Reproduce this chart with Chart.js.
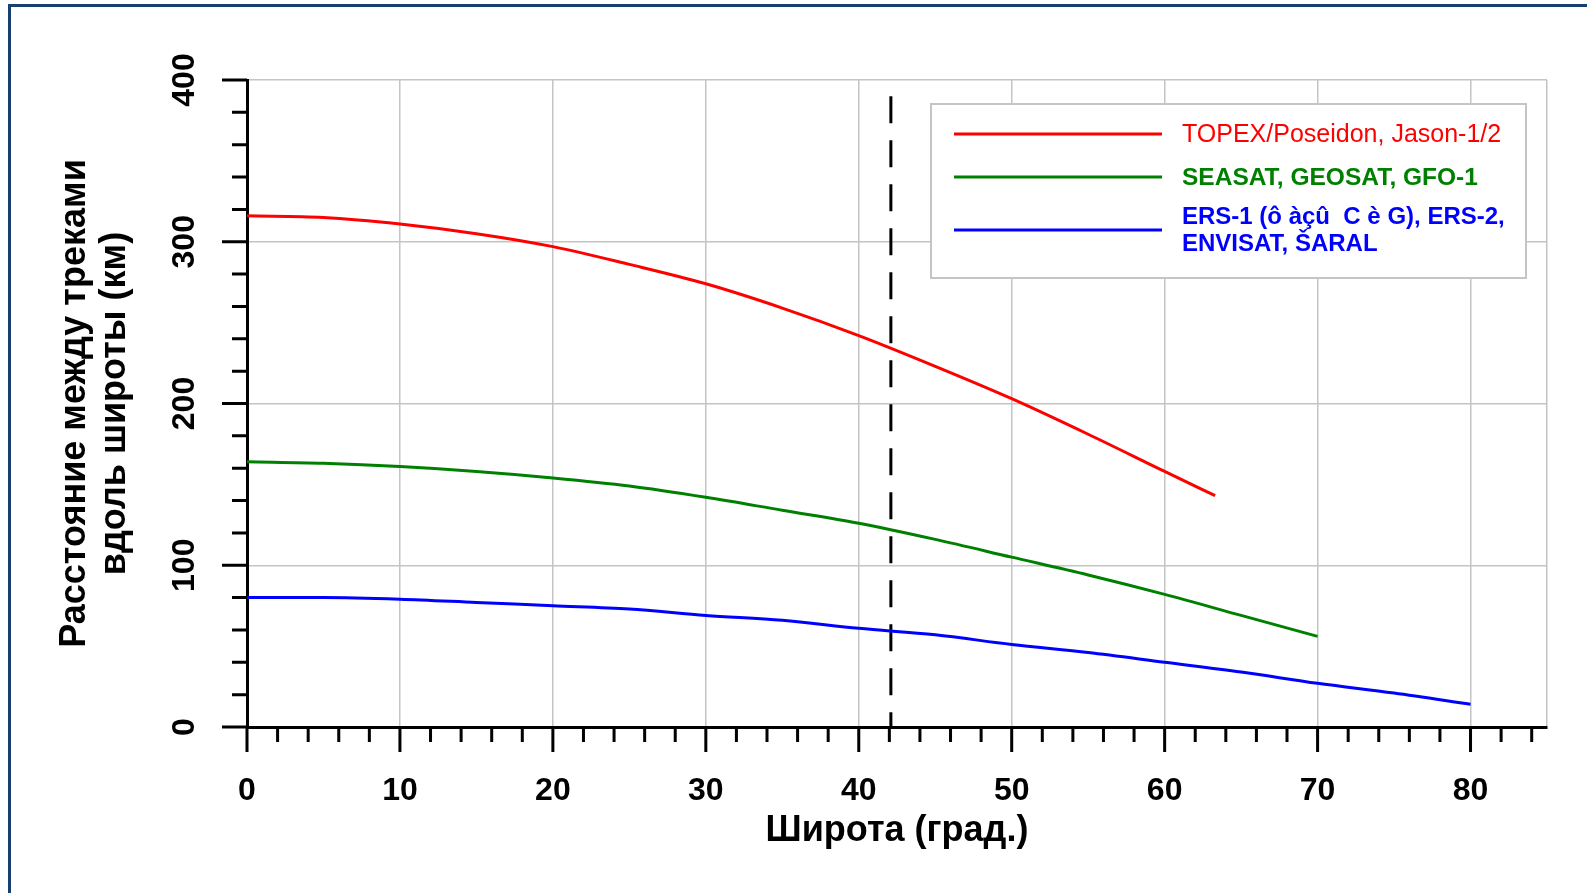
<!DOCTYPE html>
<html>
<head>
<meta charset="utf-8">
<script src="https://cdn.jsdelivr.net/npm/chart.js@4/dist/chart.umd.min.js"></script>
<style>
  body { margin: 0; background: #fff; }
  #wrap { position: relative; width: 1587px; height: 893px; overflow: hidden; }
  #frame { position: absolute; left: 8px; top: 4px; right: -10px; bottom: -10px;
           border-left: 3px solid #173f70; border-top: 3px solid #173f70; pointer-events: none; }
  canvas { position: absolute; left: 0; top: 0; }
</style>
</head>
<body>
<div id="wrap">
  <canvas id="trackChart" width="1587" height="893"></canvas>
  <div id="frame"></div>
</div>
<script>
// latitude (deg) and track spacing (km)
const topexLat = [0, 5, 10, 15, 20, 25, 30, 35, 40, 45, 50, 55, 60, 63.3];
const topexKm  = [316, 315, 311, 305, 297, 286, 274, 259, 242, 223, 203, 181, 158, 143];

const seasatLat = [0, 5, 10, 15, 20, 25, 30, 35, 40, 45, 50, 55, 60, 65, 70];
const seasatKm  = [164, 163, 161, 158, 154, 149, 142, 134, 126, 116, 105, 94, 82, 69, 56];

const ersLat = [0, 5, 10, 15, 20, 25, 30, 35, 40, 45, 50, 55, 60, 65, 70, 75, 80];
const ersKm  = [80, 80, 79, 77, 75, 73, 69, 66, 61, 57, 51, 46, 40, 34, 27, 21, 14];

// vertical dashed marker
const markerLat = [42.1, 42.1];
const markerKm  = [390, 0];

const xTicks = [0, 10, 20, 30, 40, 50, 60, 70, 80];
const yTicks = [0, 100, 200, 300, 400];
const xMax = 85;
const yMax = 400;
const xMinorStep = 2;
const yMinorStep = 20;

const legendLabels = [
  ['TOPEX/Poseidon, Jason-1/2'],
  ['SEASAT, GEOSAT, GFO-1'],
  ['ERS-1 (ô àçû  C è G), ERS-2,', 'ENVISAT, ŠARAL']
];
const seriesColors = ['#ff0000', '#008000', '#0000ff'];

const toPoints = (xs, ys) => xs.map((x, i) => ({ x: x, y: ys[i] }));

Chart.defaults.font.family = '"Liberation Sans", Arial, sans-serif';
Chart.defaults.color = '#000';

// black tick marks (major + minor) outside the plot, like the original
const tickMarks = {
  id: 'tickMarks',
  afterDraw(chart) {
    const { ctx, chartArea, scales } = chart;
    ctx.save();
    ctx.strokeStyle = '#000';
    ctx.lineWidth = 3;
    ctx.beginPath();
    for (let v = 0; v < xMax; v += xMinorStep) {
      const px = scales.x.getPixelForValue(v);
      const len = v % 10 === 0 ? 25 : 15;
      ctx.moveTo(px, chartArea.bottom);
      ctx.lineTo(px, chartArea.bottom + len);
    }
    for (let v = 0; v <= yMax; v += yMinorStep) {
      const py = scales.y.getPixelForValue(v);
      const len = v % 100 === 0 ? 25 : 15;
      ctx.moveTo(chartArea.left, py);
      ctx.lineTo(chartArea.left - len, py);
    }
    ctx.stroke();
    ctx.restore();
  }
};

// boxed legend inside the plot, top right
const boxLegend = {
  id: 'boxLegend',
  afterDatasetsDraw(chart) {
    const { ctx, chartArea } = chart;
    const x0 = chartArea.left + 684, y0 = chartArea.top + 24;
    const w = 595, h = 174;
    ctx.save();
    ctx.fillStyle = '#fff';
    ctx.fillRect(x0, y0, w, h);
    ctx.strokeStyle = '#c4c4c4';
    ctx.lineWidth = 2;
    ctx.strokeRect(x0, y0, w, h);

    const rowY = [y0 + 30, y0 + 73, y0 + 126];
    const fonts = ['25px', 'bold 24.5px', 'bold 24px'];
    legendLabels.forEach((lines, i) => {
      ctx.strokeStyle = seriesColors[i];
      ctx.lineWidth = 3;
      ctx.beginPath();
      ctx.moveTo(x0 + 23, rowY[i]);
      ctx.lineTo(x0 + 231, rowY[i]);
      ctx.stroke();

      ctx.fillStyle = seriesColors[i];
      ctx.font = fonts[i] + ' "Liberation Sans", Arial, sans-serif';
      ctx.textBaseline = 'middle';
      ctx.textAlign = 'left';
      const lh = 27;
      const startY = rowY[i] - (lines.length - 1) * lh / 2 + 1;
      lines.forEach((t, j) => ctx.fillText(t, x0 + 251, startY + j * lh));
    });
    ctx.restore();
  }
};

const ctx = document.getElementById('trackChart').getContext('2d');
new Chart(ctx, {
  type: 'line',
  data: {
    datasets: [
      { data: toPoints(topexLat, topexKm), borderColor: seriesColors[0], borderWidth: 3, pointRadius: 0, cubicInterpolationMode: 'monotone' },
      { data: toPoints(seasatLat, seasatKm), borderColor: seriesColors[1], borderWidth: 3, pointRadius: 0, cubicInterpolationMode: 'monotone' },
      { data: toPoints(ersLat, ersKm), borderColor: seriesColors[2], borderWidth: 3, pointRadius: 0, cubicInterpolationMode: 'monotone' },
      { data: toPoints(markerLat, markerKm), borderColor: '#000', borderWidth: 3, borderDash: [27, 17], pointRadius: 0 }
    ]
  },
  options: {
    responsive: false,
    animation: false,
    devicePixelRatio: 1,
    layout: { padding: { left: 0, top: 80, right: 40, bottom: 0 } },
    plugins: {
      legend: { display: false },
      tooltip: { enabled: false }
    },
    scales: {
      x: {
        type: 'linear',
        min: 0,
        max: xMax,
        afterBuildTicks: s => { s.ticks = xTicks.concat([xMax]).map(v => ({ value: v })); },
        afterFit: s => { s.height = 166; },
        ticks: {
          font: { size: 32, weight: 'bold' },
          padding: 3,
          maxRotation: 0,
          callback: v => (xTicks.includes(v) ? v : '')
        },
        // invisible tick marks only push the labels down; the real ones come from the plugin
        grid: { color: '#c4c4c4', lineWidth: 1.5, drawTicks: true, tickLength: 42, tickColor: 'rgba(0,0,0,0)' },
        border: { display: true, color: '#000', width: 3 },
        title: {
          display: true,
          text: 'Широта (град.)',
          font: { size: 36, weight: 'bold' },
          padding: { top: 0, bottom: 40 }
        }
      },
      y: {
        type: 'linear',
        min: 0,
        max: yMax,
        afterBuildTicks: s => { s.ticks = yTicks.map(v => ({ value: v })); },
        afterFit: s => { s.width = 247; },
        ticks: {
          font: { size: 32, weight: 'bold' },
          minRotation: 90,
          maxRotation: 90,
          crossAlign: 'center',
          padding: 35
        },
        grid: { color: '#c4c4c4', lineWidth: 1.5, drawTicks: false },
        border: { display: true, color: '#000', width: 3 },
        title: {
          display: true,
          text: ['Расстояние между треками', 'вдоль широты (км)'],
          font: { size: 36, weight: 'bold', lineHeight: 1.12 },
          padding: { top: 55, bottom: 4 }
        }
      }
    }
  },
  plugins: [tickMarks, boxLegend]
});
</script>
</body>
</html>
